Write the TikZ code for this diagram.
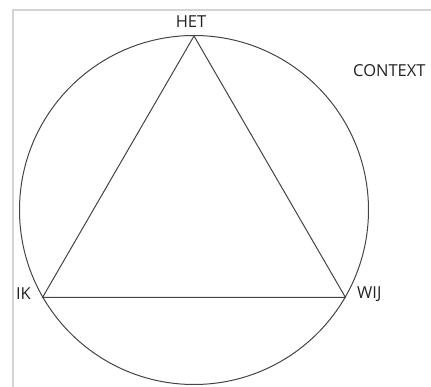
\documentclass[tikz,border=0pt]{standalone}
\usepackage{fontspec}
\setmainfont{Open Sans}
\usetikzlibrary{positioning}
\definecolor{Frame}{HTML}{D4D4D4}
\definecolor{Ink}{HTML}{444444}
\definecolor{Text}{HTML}{222222}

\begin{document}
\begin{tikzpicture}[
  x=1pt,y=-1pt,
  lbl/.style={inner sep=0pt,text=Text,font=\fontsize{16.5}{18}\selectfont}
]
  \useasboundingbox (0,0) rectangle (431,387);
  \draw[Frame,line width=1.2pt] (13,387) -- (13,10) -- (431,10);
  \coordinate (mid) at (194,210);
  \coordinate (het) at (194,36);
  \coordinate (ik) at (42.5,297.5);
  \coordinate (wij) at (345.5,297.5);
  \draw[Ink,line width=1pt] (mid) circle[radius=174.5];
  \draw[Ink,line width=1pt] (het) -- (ik) -- (wij) -- cycle;
  \node[lbl,anchor=base] (hetlbl) at (191,28) {HET};
  \node[lbl,anchor=base east] (iklbl) at (31,300) {IK};
  \node[lbl,anchor=base west] (wijlbl) at (357,299) {WIJ};
  \node[lbl,anchor=base west] (ctx) at (353,77) {CONTEXT};
\end{tikzpicture}
\end{document}
